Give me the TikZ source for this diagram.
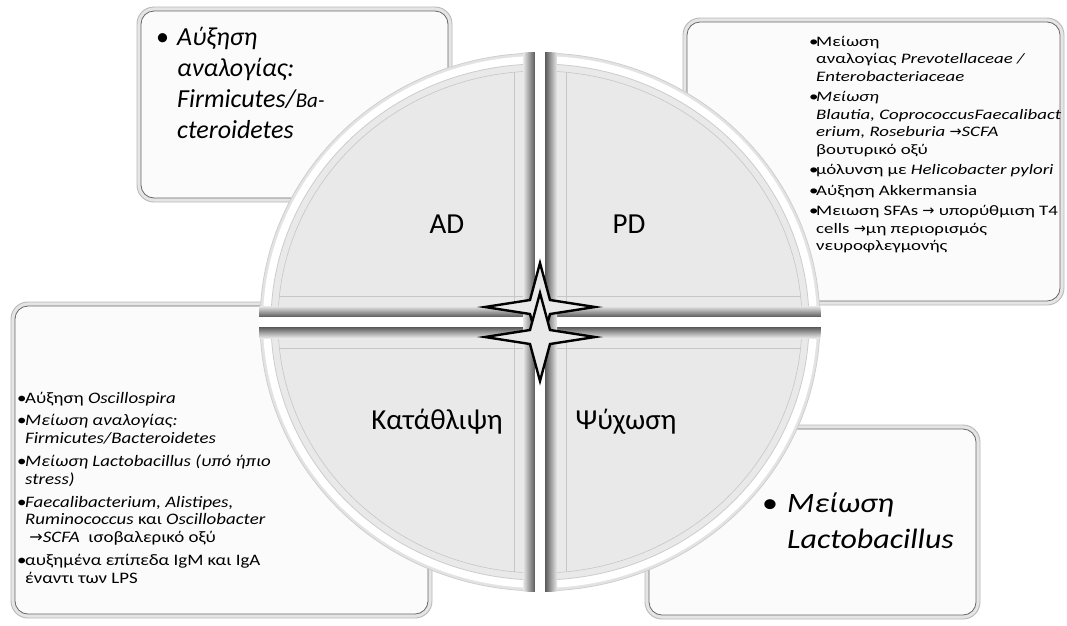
\documentclass[tikz,border=0pt]{standalone}
\usepackage{fontspec}
\setmainfont{Carlito}
\newfontfamily\arrowfont{DejaVu Sans}
\newfontfamily\trfont[FakeStretch=1.3]{Carlito}
\newfontfamily\blfont[FakeStretch=1.18]{Carlito}
\newfontfamily\brfont[FakeStretch=1.14]{Carlito}
\newcommand\myarrow{{\arrowfont →}}
\newcommand\Bsm{\makebox[7pt][l]{\upshape •}}
\newcommand\Ism{\hspace*{7pt}}
\newcommand\Bbl{\makebox[8pt][l]{\upshape •}}
\newcommand\Ibl{\hspace*{8pt}}
\begin{document}
\begin{tikzpicture}[x=1pt,y=-1pt,
  boxouter/.style={draw=gray!55, fill=gray!20, line width=0.9pt, rounded corners=17pt, inner sep=0pt},
  boxinner/.style={draw=gray!80!black, fill=white!97!gray, line width=0.8pt, rounded corners=13pt, inner sep=0pt},
  boxtext/.style={anchor=base west, inner sep=0pt},
  qlabel/.style={anchor=base, inner sep=0pt, font=\fontsize{29}{34}\selectfont},
  starshape/.style={draw=black, line width=2.4pt, fill=gray!17, line join=miter}
]
\useasboundingbox (0,0) rectangle (1067,625);
\fill[white] (0,0) rectangle (1067,625);

% ---------- boxes ----------
\node[boxouter, minimum width=315pt, minimum height=195pt] (tlo) at (294.5,104.5) {};
\node[boxinner, minimum width=307pt, minimum height=187pt] (tli) at (tlo.center) {};
\node[boxouter, minimum width=381pt, minimum height=287pt] (tro) at (873.5,161.5) {};
\node[boxinner, minimum width=373pt, minimum height=279pt] (tri) at (tro.center) {};
\node[boxouter, minimum width=421pt, minimum height=316pt] (blo) at (221.5,460) {};
\node[boxinner, minimum width=413pt, minimum height=308pt] (bli) at (blo.center) {};
\node[boxouter, minimum width=335pt, minimum height=194pt] (bro) at (812.5,522) {};
\node[boxinner, minimum width=327pt, minimum height=186pt] (bri) at (bro.center) {};

% ---------- box texts ----------
\node[boxtext] (tlt) at (156,45) {\parbox[t]{290pt}{\fontsize{26}{31}\selectfont\itshape
\makebox[21pt][l]{\upshape •}Αύξηση\\
\hspace*{21pt}αναλογίας:\\
\hspace*{21pt}Firmicutes/{\fontsize{21}{31}\selectfont Ba-}\\
\hspace*{21pt}cteroidetes}};

\node[boxtext] (trt) at (809,46) {\parbox[t]{262pt}{\trfont\fontsize{14.5}{17.5}\selectfont
\Bsm Μείωση\\
\Ism αναλογίας \textit{Prevotellaceae /}\\
\Ism \textit{Enterobacteriaceae}\\[3pt]
\Bsm \textit{Μείωση}\\
\Ism \textit{Blautia, CoprococcusFaecalibact}\\
\Ism \textit{erium, Roseburia \myarrow SCFA}\\
\Ism βουτυρικό οξύ\\[3pt]
\Bsm μόλυνση με \textit{Helicobacter pylori}\\[3pt]
\Bsm Αύξηση Akkermansia\\[3pt]
\Bsm Μειωση SFAs \myarrow{} υπορύθμιση T4\\
\Ism cells \myarrow μη περιορισμός\\
\Ism νευροφλεγμονής}};

\node[boxtext] (blt) at (17,403) {\parbox[t]{300pt}{\blfont\fontsize{16}{17.8}\selectfont
\Bbl Αύξηση \textit{Oscillospira}\\[5pt]
\Bbl \textit{Μείωση αναλογίας:}\\
\Ibl \textit{Firmicutes/Bacteroidetes}\\[5pt]
\Bbl \textit{Μείωση Lactobacillus (υπό ήπιο}\\
\Ibl \textit{stress)}\\[5pt]
\Bbl \textit{Faecalibacterium, Alistipes,}\\
\Ibl \textit{Ruminococcus} και \textit{Oscillobacter}\\
\Ibl\ \myarrow\textit{SCFA}\ \ ισοβαλερικό οξύ\\[5pt]
\Bbl αυξημένα επίπεδα IgM και IgA\\
\Ibl έναντι των LPS}};

\node[boxtext] (brt) at (762,512) {\parbox[t]{215pt}{\brfont\fontsize{28}{36}\selectfont\itshape
\makebox[25pt][l]{\upshape •}Μείωση\\
\hspace*{25pt}Lactobacillus}};

% ---------- circle ----------
\fill[gray!22, draw=gray!40, line width=0.7pt] (540,322) ellipse [x radius=280pt, y radius=269pt];
\fill[white] (540,322) ellipse [x radius=277pt, y radius=266pt];
\fill[gray!17, draw=gray!40, line width=0.8pt] (540,322) ellipse [x radius=269pt, y radius=258pt];
\draw[gray!45, line width=0.6pt] (540,322) ellipse [x radius=262pt, y radius=251pt];
\begin{scope}
  \clip (540,322) ellipse [x radius=262pt, y radius=251pt];
  \draw[gray!45, line width=0.6pt] (250,296) -- (830,296) (250,348) -- (830,348)
        (514,40) -- (514,600) (566,40) -- (566,600);
\end{scope}
\begin{scope}
  \clip (540,322) ellipse [x radius=281pt, y radius=270pt];
  \shade[top color=gray!17, bottom color=black!65] (250,306) rectangle (830,317);
  \fill[white] (250,317) rectangle (830,327);
  \shade[top color=black!65, bottom color=gray!17] (250,327) rectangle (830,338);
  \shade[left color=gray!17, right color=black!65] (523,40) rectangle (535,610);
  \fill[white] (535,40) rectangle (545,610);
  \shade[left color=black!65, right color=gray!17] (545,40) rectangle (557,610);
\end{scope}

% ---------- stars ----------
\begin{scope}[shift={(540,307)}]
  \draw[starshape] (-55,0) -- (-10,-7) -- (0,-44) -- (10,-7) -- (55,0) -- (10,7) -- (0,44) -- (-10,7) -- cycle;
\end{scope}
\begin{scope}[shift={(540,337)}]
  \draw[starshape] (-55,0) -- (-10,-7) -- (0,-44) -- (10,-7) -- (55,0) -- (10,7) -- (0,44) -- (-10,7) -- cycle;
\end{scope}

% ---------- quadrant labels ----------
\node[qlabel] (ad) at (447,233) {AD};
\node[qlabel] (pd) at (629,233) {PD};
\node[qlabel] (dep) at (437,429) {Κατάθλιψη};
\node[qlabel] (psy) at (626,429) {Ψύχωση};
\end{tikzpicture}
\end{document}
